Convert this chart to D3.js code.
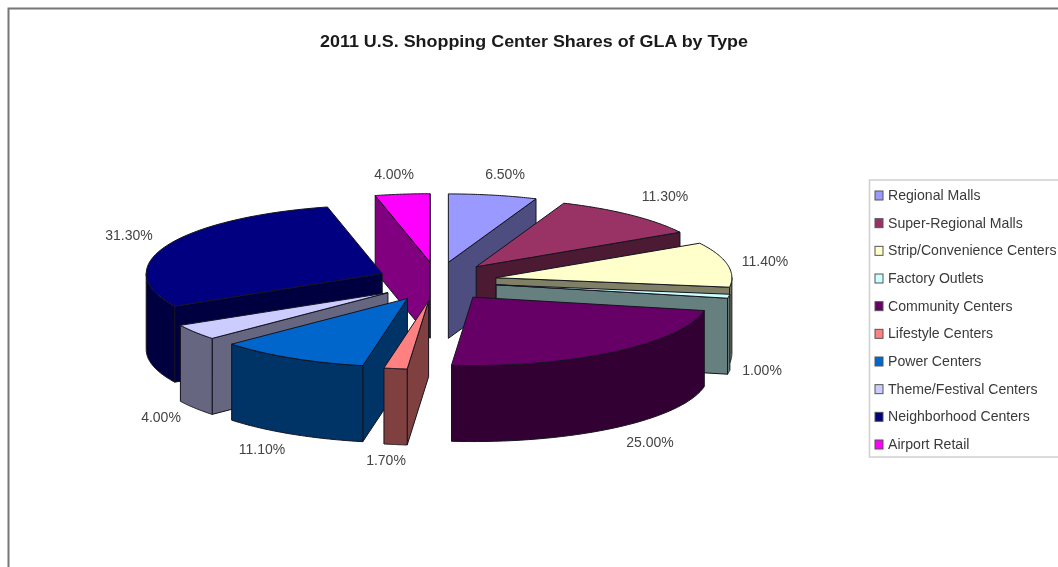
<!DOCTYPE html>
<html><head><meta charset="utf-8">
<script src="https://cdn.jsdelivr.net/npm/d3@7"></script>
<style>
html,body{margin:0;padding:0;background:#fff;overflow:hidden}
svg{display:block;filter:blur(0.55px)}
text{font-family:"Liberation Sans",Arial,sans-serif}
</style></head><body>
<svg id="c" width="1058" height="567"></svg>
<script>
const chartTitle = "2011 U.S. Shopping Center Shares of GLA by Type";
const categories = ["Regional Malls","Super-Regional Malls","Strip/Convenience Centers","Factory Outlets","Community Centers","Lifestyle Centers","Power Centers","Theme/Festival Centers","Neighborhood Centers","Airport Retail"];
const shares = [6.5,11.3,11.4,1.0,25.0,1.7,11.1,4.0,31.3,4.0];
const colors = ["#9999FF","#993366","#FFFFCC","#CCFFFF","#660066","#FF8080","#0066CC","#CCCCFF","#000080","#FF00FF"];

const W=1058,H=567;
const svg=d3.select("#c");
const cx=437, cy=281.5, R=236, tilt=0.29, depth=76, explode=60, explodeY=19.5;

// frame
svg.append("path").attr("d",d3.line()([[8.5,H],[8.5,8.5],[W,8.5]])).attr("fill","none").attr("stroke","#777").attr("stroke-width",2);

svg.append("text").attr("x",534).attr("y",47).attr("text-anchor","middle")
  .attr("font-size",17).attr("font-weight","bold").attr("fill","#1a1a1a").attr("textLength",428).attr("lengthAdjust","spacingAndGlyphs").text(chartTitle);

const pie=d3.pie().sort(null).startAngle(0).endAngle(2*Math.PI)(shares);
const slices=pie.map((p,i)=>{
  const mid=(p.startAngle+p.endAngle)/2;
  return {i,a0:p.startAngle,a1:p.endAngle,mid,
    ax:cx+explode*Math.sin(mid), ay:cy-explodeY*Math.cos(mid)};
});
const pt=(s,a,dz=0)=>[s.ax+R*Math.sin(a), s.ay-R*tilt*Math.cos(a)+dz];
const arcPts=(s,a0,a1,dz=0)=>d3.range(0,41).map(k=>pt(s,a0+(a1-a0)*k/40,dz));
const line=d3.line();
const order=slices.slice().sort((a,b)=>Math.cos(b.mid)-Math.cos(a.mid));
const g=svg.append("g").attr("stroke-width",1).attr("stroke-linejoin","round");
const dark=c=>d3.interpolateRgb(c,"#000")(0.5);
order.forEach(s=>{
  const top=colors[s.i], side=dark(top);
  const apex=[s.ax,s.ay], apexB=[s.ax,s.ay+depth];
  const poly=p=>g.append("path").attr("d",line(p)+"Z").attr("fill",side).attr("stroke","#14141f");
  // cut faces, drawn only when they face the viewer
  if(Math.cos(s.a1+Math.PI/2)<0){ poly([apex,pt(s,s.a1),pt(s,s.a1,depth),apexB]); }
  if(Math.cos(s.a0-Math.PI/2)<0){ poly([apex,pt(s,s.a0),pt(s,s.a0,depth),apexB]); }
  // outer wall, front half only
  const lo=Math.max(s.a0,Math.PI/2), hi=Math.min(s.a1,3*Math.PI/2);
  if(hi>lo){
    const a=arcPts(s,lo,hi,0), b=arcPts(s,lo,hi,depth).reverse();
    poly(a.concat(b));
  }
  // top face
  g.append("path").attr("d",line([apex].concat(arcPts(s,s.a0,s.a1)))+"Z").attr("fill",top).attr("stroke","#14141f");
});

// data labels
const labelPos=[[505,179],[665,201],[765,266],[762,375],[650,447],[386,465],[262,454],[161,422],[129,240],[394,179]];
shares.forEach((v,i)=>{
  svg.append("text").attr("x",labelPos[i][0]).attr("y",labelPos[i][1]).attr("text-anchor","middle")
    .attr("font-size",14).attr("fill","#444").text(v.toFixed(2)+"%");
});

// legend
const legY=d3.scalePoint().domain(categories).range([195,444]);
svg.append("path").attr("d",d3.line()([[W,180],[869.5,180],[869.5,457],[W,457]])).attr("fill","none").attr("stroke","#d0d0d0").attr("stroke-width",1.5);
categories.forEach((c,i)=>{
  const y=legY(c);
  svg.append("rect").attr("x",875).attr("y",y-4).attr("width",8).attr("height",9).attr("fill",colors[i]).attr("stroke","#555").attr("stroke-width",1);
  svg.append("text").attr("x",888).attr("y",y+5).attr("font-size",14.1).attr("fill","#3a3a3a").text(c);
});
</script>
</body></html>
